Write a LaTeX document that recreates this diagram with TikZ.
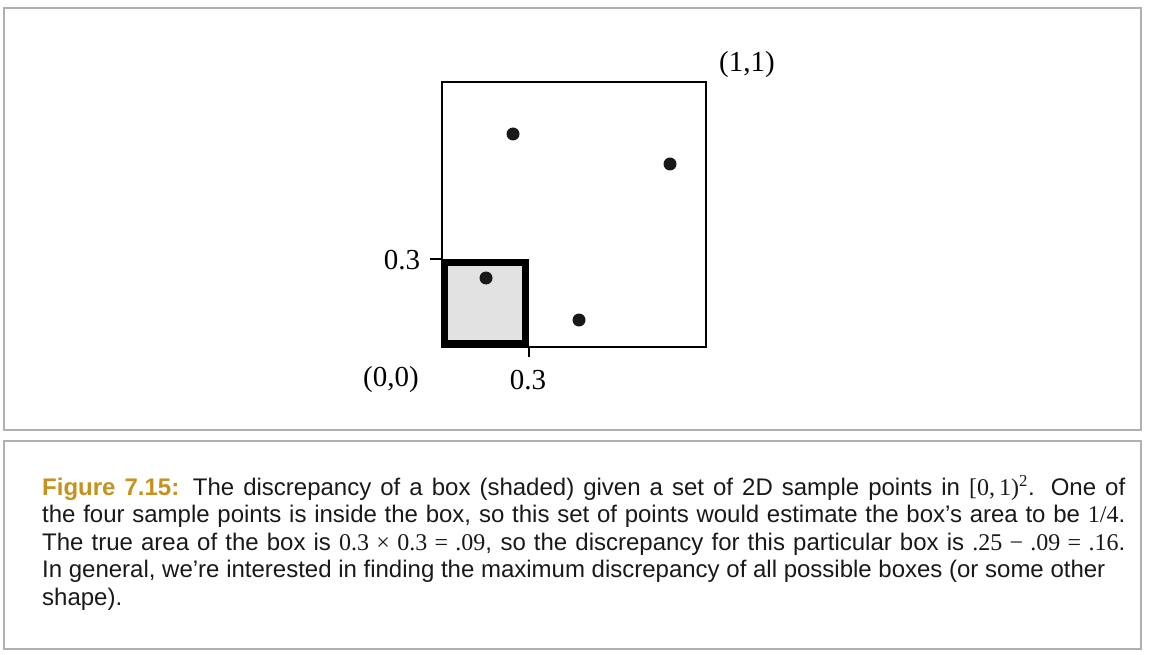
\documentclass[tikz,border=0pt]{standalone}
\usepackage{fontspec}
\setmainfont{Liberation Sans}
\newfontfamily\tms{Liberation Serif}
\usetikzlibrary{positioning,calc}
\definecolor{figgold}{RGB}{198,145,28}
\definecolor{framegray}{RGB}{176,176,176}
\definecolor{boxgray}{RGB}{226,226,226}

\begin{document}
\begin{tikzpicture}[x=1pt, y=-1pt,
            frame/.style={draw=framegray, line width=2pt},
            label/.style={inner sep=0pt, font=\tms\fontsize{29}{31}\selectfont},
            sample/.style={fill=black!90, radius=6.5}]
        \useasboundingbox (0,0) rectangle (1149,655);
        \draw[frame] (4,8) rectangle (1141,430);
        \draw[frame] (4,441) rectangle (1141,649);
        % unit square and the box
        \coordinate (O) at (442,346.5);
        \coordinate (I) at (706,82);
        \coordinate (B) at (525.5,262.5);
        \draw[fill=boxgray, line width=7pt] (444.5,343.5) rectangle (B);
        \draw[line width=2pt] (O) rectangle (I);
        \draw[line width=1.6pt] (430,259) -- (442,259);
        \draw[line width=1.6pt] (529,346.5) -- (529,357);
        \foreach \p in {(513,134),(670,164),(486,278),(579,320)}
            \fill[sample] \p circle;
        \node[label] (one) at (747,65) {(1,1)};
        \node[label] (yt) at (402,260) {0.3};
        \node[label] (zero) at (391,380) {(0,0)};
        \node[label] (xt) at (528,380) {0.3};
        % caption
        \node[anchor=north west, inner sep=0pt, text width=1083pt, align=justify, text=black!90,
              font=\fontsize{24}{27.5}\selectfont] (cap) at (42,475)
            {{\bfseries\color{figgold}Figure 7.15:} The discrepancy of a box (shaded) given a set of 2D sample points in {\tms [0,\,1)\textsuperscript{2}}. One of\linebreak
             the four sample points is inside the box, so this set of points would estimate the box’s area to be {\tms 1/4}.\linebreak
             The true area of the box is {\tms 0.3 × 0.3 = .09}, so the discrepancy for this particular box is {\tms .25 − .09 = .16}.\linebreak
             In general, we’re interested in finding the maximum discrepancy of all possible boxes (or some other\\
             shape).};
\end{tikzpicture}
\end{document}
